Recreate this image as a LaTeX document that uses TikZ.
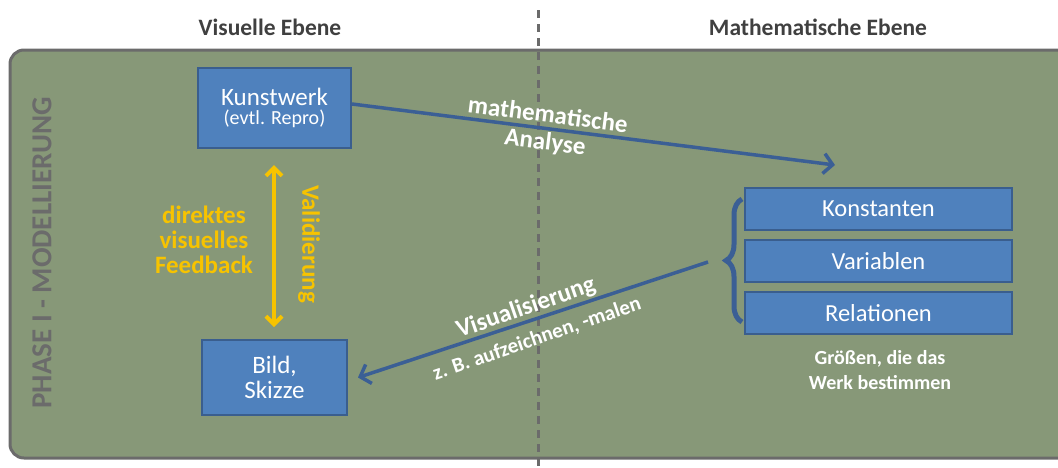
\documentclass[tikz,border=0pt]{standalone}
\usepackage{fontspec}
\setmainfont{Carlito}
\usetikzlibrary{decorations.pathreplacing,arrows.meta}
\definecolor{sage}{HTML}{879878}
\definecolor{framegray}{HTML}{6B6B6B}
\definecolor{boxblue}{HTML}{4F81BD}
\definecolor{boxline}{HTML}{3A5E8E}
\definecolor{arrowblue}{HTML}{3B5F95}
\definecolor{gold}{HTML}{F7C300}
\definecolor{titlegray}{HTML}{404040}
\begin{document}
\begin{tikzpicture}[x=1pt,y=-1pt]
\tikzstyle{box}=[draw=boxline,line width=2pt,fill=boxblue,text=white,align=center,inner sep=0pt];
\tikzstyle{title}=[text=titlegray,font=\fontsize{23.5}{28}\selectfont\bfseries];
\tikzstyle{yellowtext}=[text=gold,font=\fontsize{25}{25}\selectfont\bfseries,align=center];
\tikzstyle{whitetext}=[text=white,font=\fontsize{25}{28}\selectfont\bfseries,align=center];
\useasboundingbox (0,0) rectangle (1058,467);
% background panel
\draw[framegray,line width=3pt,fill=sage,rounded corners=14pt] (10,50) rectangle (1075,458);
\draw[framegray,line width=3pt,dash pattern=on 8pt off 6pt] (538,10) -- (538,467);
\node[title] (visuell) at (270,27) {Visuelle Ebene};
\node[title] (mathe) at (818,27) {Mathematische Ebene};
\node[text=framegray,font=\fontsize{29}{32}\selectfont\bfseries,rotate=90] (phase) at (42,253) {PHASE I - MODELLIERUNG};
% boxes
\node[box,minimum width=153pt,minimum height=80pt] (kunst) at (274.5,108)
  {{\fontsize{25}{26}\selectfont Kunstwerk}\\[3pt]{\fontsize{20}{22}\selectfont (evtl. Repro)}};
\node[box,minimum width=145pt,minimum height=75pt,font=\fontsize{25}{25}\selectfont] (bild) at (274.5,377.5)
  {Bild,\\Skizze};
\node[box,minimum width=267pt,minimum height=42pt,font=\fontsize{24.5}{26}\selectfont] (konst) at (878.5,209) {Konstanten};
\node[box,minimum width=267pt,minimum height=42pt,font=\fontsize{24.5}{26}\selectfont] (var) at (878.5,261) {Variablen};
\node[box,minimum width=267pt,minimum height=42pt,font=\fontsize{24.5}{26}\selectfont] (rel) at (878.5,313) {Relationen};
\node[whitetext,font=\fontsize{20}{25}\selectfont\bfseries] (groessen) at (880,370) {Größen, die das\\Werk bestimmen};
% brace
\draw[arrowblue,line width=5pt,decorate,decoration={brace,amplitude=16pt,aspect=0.5}]
  (742,322) -- (742,199);
\coordinate (tip) at (708,262);
% validation
\draw[gold,line width=4pt,<->,>={Straight Barb[length=8pt,width=16pt]}] (274,165) -- (274,327);
\node[yellowtext,rotate=-90] (valid) at (309,244) {Validierung};
\node[yellowtext] (feedback) at (204,240) {direktes\\visuelles\\Feedback};
% analysis arrows
\coordinate (ziel) at (835,165);
\draw[arrowblue,line width=3.5pt,->,>={Straight Barb[length=9pt,width=20pt]}] (kunst.east) ++(0,-4) -- (ziel);
\node[whitetext,rotate=-7.2] (analyse1) at (548,114) {mathematische};
\node[whitetext,rotate=-7.2] (analyse2) at (545,143) {Analyse};
\draw[arrowblue,line width=3.5pt,->,>={Straight Barb[length=9pt,width=20pt]}] (tip) -- ([xshift=10pt]bild.east);
\node[whitetext,rotate=19] (visu1) at (526,308) {Visualisierung};
\node[whitetext,font=\fontsize{21}{24}\selectfont\bfseries,rotate=19] (visu2) at (537,339) {z. B. aufzeichnen, -malen};
\end{tikzpicture}
\end{document}
